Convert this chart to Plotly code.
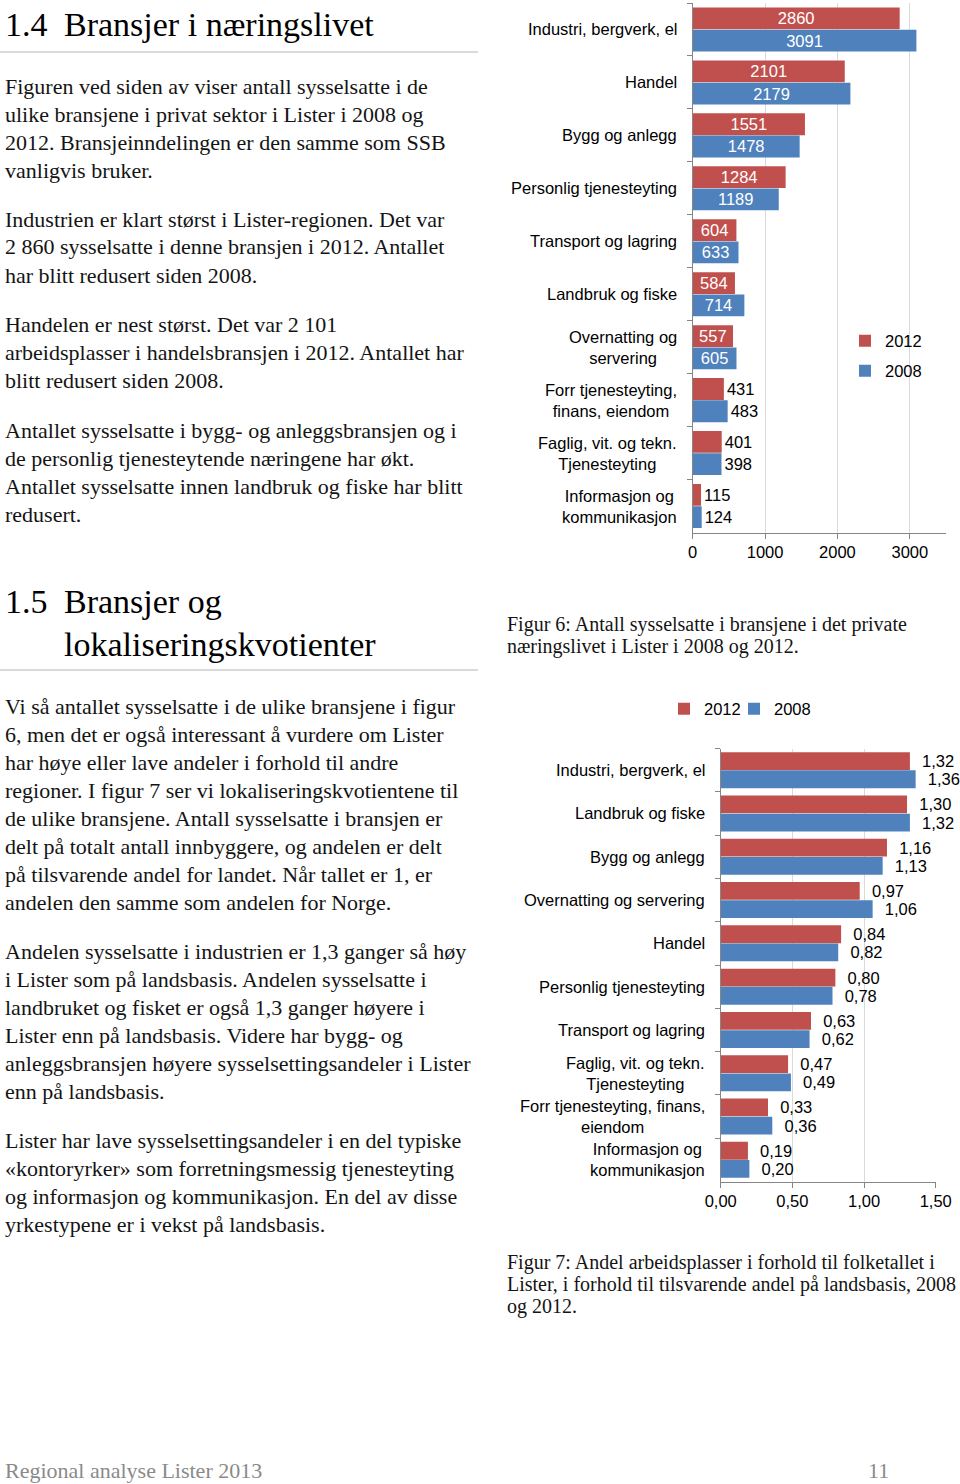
import plotly.graph_objects as go

W, H = 960, 1484


def px(x):
    return x / W


def py(y):
    return 1 - y / H


# ---------------- data ----------------
# Figure 6: employees per industry (Lister)
cats1 = [
    "Industri, bergverk, el",
    "Handel",
    "Bygg og anlegg",
    "Personlig tjenesteyting",
    "Transport og lagring",
    "Landbruk og fiske",
    "Overnatting og servering",
    "Forr tjenesteyting, finans, eiendom",
    "Faglig, vit. og tekn. Tjenesteyting",
    "Informasjon og kommunikasjon",
]
labels1 = [
    "Industri, bergverk, el",
    "Handel",
    "Bygg og anlegg",
    "Personlig tjenesteyting",
    "Transport og lagring",
    "Landbruk og fiske",
    "Overnatting og<br>servering",
    "Forr tjenesteyting,<br>finans, eiendom",
    "Faglig, vit. og tekn.<br>Tjenesteyting",
    "Informasjon og<br>kommunikasjon",
]
emp_2012 = [2860, 2101, 1551, 1284, 604, 584, 557, 431, 401, 115]
emp_2008 = [3091, 2179, 1478, 1189, 633, 714, 605, 483, 398, 124]
ticks1 = [0, 1000, 2000, 3000]

# Figure 7: location quotients
cats2 = [
    "Industri, bergverk, el",
    "Landbruk og fiske",
    "Bygg og anlegg",
    "Overnatting og servering",
    "Handel",
    "Personlig tjenesteyting",
    "Transport og lagring",
    "Faglig, vit. og tekn. Tjenesteyting",
    "Forr tjenesteyting, finans, eiendom",
    "Informasjon og kommunikasjon",
]
labels2 = [
    "Industri, bergverk, el",
    "Landbruk og fiske",
    "Bygg og anlegg",
    "Overnatting og servering",
    "Handel",
    "Personlig tjenesteyting",
    "Transport og lagring",
    "Faglig, vit. og tekn.<br>Tjenesteyting",
    "Forr tjenesteyting, finans,<br>eiendom",
    "Informasjon og<br>kommunikasjon",
]
lq_2012 = [1.32, 1.30, 1.16, 0.97, 0.84, 0.80, 0.63, 0.47, 0.33, 0.19]
lq_2008 = [1.36, 1.32, 1.13, 1.06, 0.82, 0.78, 0.62, 0.49, 0.36, 0.20]
ticks2 = [0, 0.5, 1.0, 1.5]

series_names = ["2012", "2008"]

# ---------------- style ----------------
RED = "#C0504D"
BLUE = "#4F81BD"
SANS = "Liberation Sans"
SERIF = "Liberation Serif"
FS = 16.5
AXIS = "#868686"
GRID = "#D9D9D9"
TXT = "#141414"

fig = go.Figure()


def positions(vals):
    return ["inside" if v >= 500 else "outside" for v in vals]


for name, vals, col, leg in [
    (series_names[0], emp_2012, RED, "legend"),
    (series_names[1], emp_2008, BLUE, "legend2"),
]:
    fig.add_trace(go.Bar(
        y=cats1, x=vals, orientation="h", name=name,
        marker=dict(color=col, line=dict(width=0)),
        text=[str(v) for v in vals], textposition=positions(vals),
        insidetextanchor="middle", textangle=0, constraintext="none",
        insidetextfont=dict(color="white", size=FS, family=SANS),
        outsidetextfont=dict(color="black", size=FS, family=SANS),
        cliponaxis=False, xaxis="x", yaxis="y", legend=leg,
        hoverinfo="skip",
    ))

for name, vals, col, leg in [
    (series_names[0], lq_2012, RED, "legend3"),
    (series_names[1], lq_2008, BLUE, "legend4"),
]:
    fig.add_trace(go.Bar(
        y=cats2, x=vals, orientation="h", name=name,
        marker=dict(color=col, line=dict(width=0)),
        text=["\u00a0\u00a0" + f"{v:.2f}".replace(".", ",") for v in vals],
        textposition="outside", textangle=0, constraintext="none",
        outsidetextfont=dict(color="black", size=FS, family=SANS),
        cliponaxis=False, xaxis="x2", yaxis="y2", legend=leg,
        hoverinfo="skip",
    ))

axis_common = dict(
    showline=True, linecolor=AXIS, linewidth=1,
    ticks="outside", ticklen=5, tickcolor=AXIS,
    tickfont=dict(family=SANS, size=FS, color="black"),
    zeroline=False, fixedrange=True, automargin=False,
)

fig.update_layout(
    width=W, height=H, autosize=False,
    margin=dict(l=0, r=0, t=0, b=0, pad=0, autoexpand=False),
    paper_bgcolor="white", plot_bgcolor="white",
    separators=", ",
    barmode="group", bargap=0.16, bargroupgap=0.02,
    showlegend=True,
    xaxis=dict(domain=[px(692.7), px(946)], range=[0, 3500],
               tickvals=ticks1, showgrid=True, gridcolor=GRID,
               anchor="y", **axis_common),
    yaxis=dict(domain=[py(532.5), py(3)], type="category",
               categoryorder="array", categoryarray=cats1,
               autorange="reversed", tickson="boundaries",
               showticklabels=False, showgrid=False, anchor="x",
               **axis_common),
    xaxis2=dict(domain=[px(720.7), px(935.7)], range=[0, 1.5],
                tickvals=ticks2, tickformat=".2f", showgrid=True,
                gridcolor=GRID, anchor="y2", **axis_common),
    yaxis2=dict(domain=[py(1181.5), py(748.5)], type="category",
                categoryorder="array", categoryarray=cats2,
                autorange="reversed", tickson="boundaries",
                showticklabels=False, showgrid=False, anchor="x2",
                **axis_common),
)

leg_common = dict(xanchor="left", yanchor="middle", bgcolor="rgba(0,0,0,0)",
                  borderwidth=0, font=dict(family=SANS, size=FS, color="black"))
fig.update_layout(
    legend=dict(x=px(845), y=py(341), **leg_common),
    legend2=dict(x=px(845), y=py(371), **leg_common),
    legend3=dict(x=px(664), y=py(709), **leg_common),
    legend4=dict(x=px(734), y=py(709), **leg_common),
)

ann = []
# category labels
for c, lab in zip(cats1, labels1):
    ann.append(dict(xref="paper", yref="y", x=px(679), y=c, text=lab,
                    xanchor="right", yanchor="middle", align="center",
                    showarrow=False, font=dict(family=SANS, size=FS, color="black")))
for c, lab in zip(cats2, labels2):
    ann.append(dict(xref="paper", yref="y2", x=px(707), y=c, text=lab,
                    xanchor="right", yanchor="middle", align="center",
                    showarrow=False, font=dict(family=SANS, size=FS, color="black")))


def line(x, y, text, size=22, color=TXT, family=SERIF):
    ann.append(dict(xref="paper", yref="paper", x=px(x), y=py(y), text=text,
                    xanchor="left", yanchor="middle", showarrow=False,
                    font=dict(family=family, size=size, color=color)))


# headings
line(3, 25, "1.4", 34, "black")
line(62, 25, "Bransjer i næringslivet", 34, "black")
line(3, 601, "1.5", 34, "black")
line(62, 601, "Bransjer og", 34, "black")
line(62, 645, "lokaliseringskvotienter", 34, "black")

body1 = [
    (87, "Figuren ved siden av viser antall sysselsatte i de"),
    (115, "ulike bransjene i privat sektor i Lister i 2008 og"),
    (143, "2012. Bransjeinndelingen er den samme som SSB"),
    (171, "vanligvis bruker."),
    (219, "Industrien er klart størst i Lister-regionen. Det var"),
    (247, "2 860 sysselsatte i denne bransjen i 2012. Antallet"),
    (275, "har blitt redusert siden 2008."),
    (324, "Handelen er nest størst. Det var 2 101"),
    (352, "arbeidsplasser i handelsbransjen i 2012. Antallet har"),
    (380, "blitt redusert siden 2008."),
    (430, "Antallet sysselsatte i bygg- og anleggsbransjen og i"),
    (458, "de personlig tjenesteytende næringene har økt."),
    (486, "Antallet sysselsatte innen landbruk og fiske har blitt"),
    (514, "redusert."),
    (706, "Vi så antallet sysselsatte i de ulike bransjene i figur"),
    (734, "6, men det er også interessant å vurdere om Lister"),
    (762, "har høye eller lave andeler i forhold til andre"),
    (790, "regioner. I figur 7 ser vi lokaliseringskvotientene til"),
    (818, "de ulike bransjene. Antall sysselsatte i bransjen er"),
    (846, "delt på totalt antall innbyggere, og andelen er delt"),
    (874, "på tilsvarende andel for landet. Når tallet er 1, er"),
    (902, "andelen den samme som andelen for Norge."),
    (951, "Andelen sysselsatte i industrien er 1,3 ganger så høy"),
    (979, "i Lister som på landsbasis. Andelen sysselsatte i"),
    (1007, "landbruket og fisket er også 1,3 ganger høyere i"),
    (1035, "Lister enn på landsbasis. Videre har bygg- og"),
    (1063, "anleggsbransjen høyere sysselsettingsandeler i Lister"),
    (1091, "enn på landsbasis."),
    (1140, "Lister har lave sysselsettingsandeler i en del typiske"),
    (1168, "«kontoryrker» som forretningsmessig tjenesteyting"),
    (1196, "og informasjon og kommunikasjon. En del av disse"),
    (1224, "yrkestypene er i vekst på landsbasis."),
]
for y, t in body1:
    line(3, y, t)

captions = [
    (624, "Figur 6: Antall sysselsatte i bransjene i det private"),
    (646, "næringslivet i Lister i 2008 og 2012."),
    (1262, "Figur 7: Andel arbeidsplasser i forhold til folketallet i"),
    (1284, "Lister, i forhold til tilsvarende andel på landsbasis, 2008"),
    (1306, "og 2012."),
]
for y, t in captions:
    line(505, y, t, 20)

line(3, 1470, "Regional analyse Lister 2013", 22, "#8a8a8a")
line(866, 1470, "11", 22, "#8a8a8a")

fig.update_layout(annotations=ann)

shapes = [
    dict(type="line", xref="paper", yref="paper", x0=0, x1=px(478),
         y0=py(52), y1=py(52), line=dict(color="#b4b4b4", width=1)),
    dict(type="line", xref="paper", yref="paper", x0=0, x1=px(478),
         y0=py(670), y1=py(670), line=dict(color="#b4b4b4", width=1)),
]
fig.update_layout(shapes=shapes)

fig.write_html(
    "out.html",
    config={"displayModeBar": False, "staticPlot": True},
    post_script="document.body.style.margin='0px';document.body.style.overflow='hidden';",
)
